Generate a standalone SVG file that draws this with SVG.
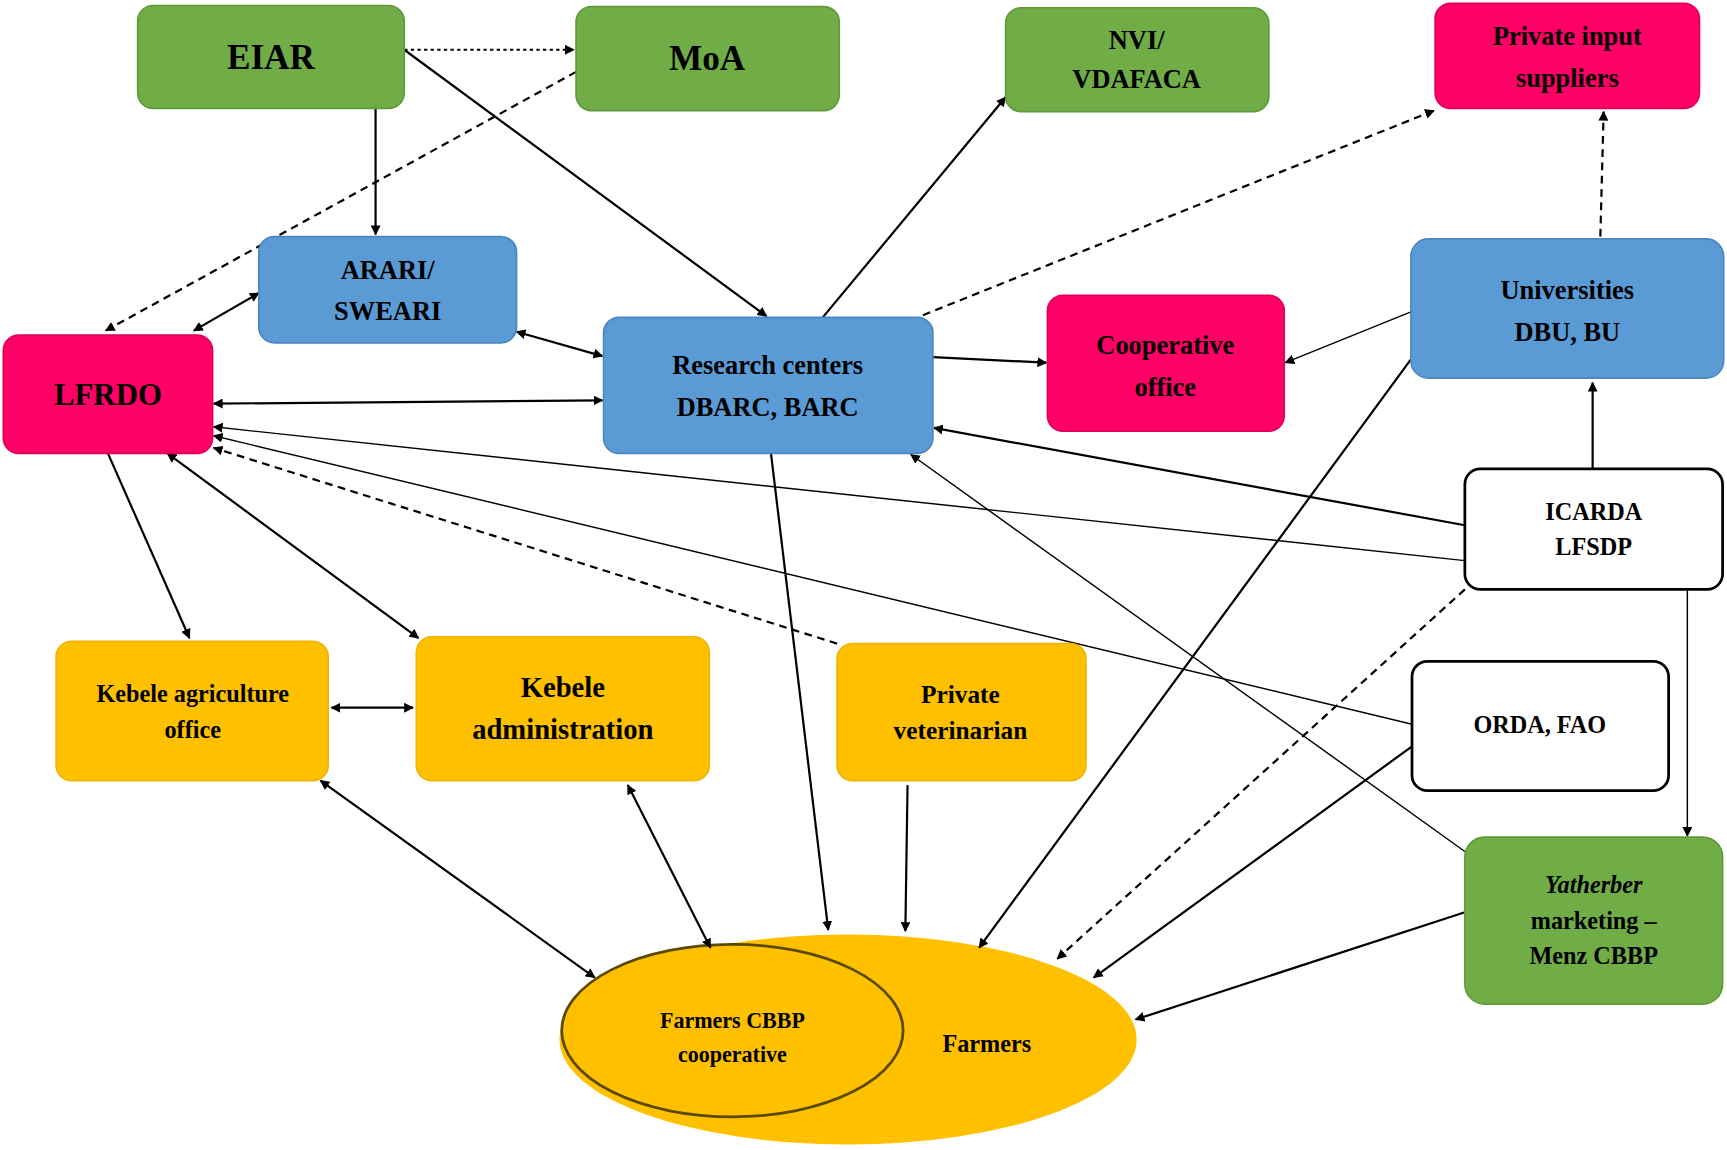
<svg xmlns="http://www.w3.org/2000/svg" width="1727" height="1150" viewBox="0 0 1727 1150">
<defs>
<marker id="a" viewBox="0 0 10 10" refX="9" refY="5" markerWidth="9" markerHeight="9" markerUnits="userSpaceOnUse" orient="auto-start-reverse"><path d="M0,0L10,5L0,10z" fill="#000"/></marker>
<style>
text{font-family:"Liberation Serif",serif;font-weight:bold;text-anchor:middle;fill:#000}
.g{fill:#70AD47;stroke:#5E9A3A;stroke-width:1.5}
.p{fill:#FF0066;stroke:#E0005A;stroke-width:1.5}
.b{fill:#5B9BD5;stroke:#4A87C0;stroke-width:1.5}
.y{fill:#FFC000;stroke:#F0B400;stroke-width:1.5}
.w{fill:#fff;stroke:#000;stroke-width:2.5}
.c line{stroke:#000;stroke-width:2;fill:none}
.d{stroke-dasharray:7,5}
.o{stroke-dasharray:3,3}
.t{stroke-width:1.3!important}
</style>
</defs>
<rect width="1727" height="1150" fill="#fff"/>
<g transform="scale(1.1014,1.1058)">
<g id="farmers"><ellipse cx="770" cy="940" rx="262" ry="95" fill="#FFC000"/><text x="896" y="951" font-size="22">Farmers</text></g>
<g id="coop"><ellipse cx="665" cy="932" rx="155" ry="78" fill="#FFC000" stroke="#5a4a00" stroke-width="2.5"/><text x="665" y="930" font-size="20">Farmers CBBP</text><text x="665" y="960" font-size="20">cooperative</text></g>
<g class="c">
<line x1="367" y1="45" x2="521" y2="45" class="o" marker-end="url(#a)"/>
<line x1="523" y1="65" x2="96" y2="299" class="d" marker-end="url(#a)"/>
<line x1="341" y1="98" x2="341" y2="212" marker-end="url(#a)"/>
<line x1="367" y1="45" x2="696" y2="286" marker-end="url(#a)"/>
<line x1="747" y1="287" x2="913" y2="88" marker-end="url(#a)"/>
<line x1="838" y1="285" x2="1302" y2="100" class="d" marker-end="url(#a)"/>
<line x1="1453" y1="214" x2="1456" y2="101" class="d" marker-end="url(#a)"/>
<line x1="235" y1="265" x2="176" y2="299" marker-start="url(#a)" marker-end="url(#a)"/>
<line x1="469" y1="300" x2="547" y2="322" marker-start="url(#a)" marker-end="url(#a)"/>
<line x1="194" y1="365" x2="547" y2="362" marker-start="url(#a)" marker-end="url(#a)"/>
<line x1="847" y1="323" x2="950" y2="328" marker-end="url(#a)"/>
<line x1="1281" y1="282" x2="1167" y2="328" class="t" marker-end="url(#a)"/>
<line x1="1446" y1="424" x2="1446" y2="346" marker-end="url(#a)"/>
<line x1="1330" y1="475" x2="848" y2="387" marker-end="url(#a)"/>
<line x1="1330" y1="507" x2="194" y2="386" class="t" marker-end="url(#a)"/>
<line x1="1282" y1="655" x2="194" y2="394" class="t" marker-end="url(#a)"/>
<line x1="760" y1="582" x2="194" y2="405" class="d" marker-end="url(#a)"/>
<line x1="98" y1="410" x2="172" y2="577" marker-end="url(#a)"/>
<line x1="152" y1="410" x2="380" y2="577" marker-start="url(#a)" marker-end="url(#a)"/>
<line x1="301" y1="640" x2="375" y2="640" stroke-width="3" marker-start="url(#a)" marker-end="url(#a)"/>
<line x1="291" y1="706" x2="540" y2="884" marker-start="url(#a)" marker-end="url(#a)"/>
<line x1="570" y1="710" x2="645" y2="857" marker-start="url(#a)" marker-end="url(#a)"/>
<line x1="700" y1="410" x2="752" y2="841" marker-end="url(#a)"/>
<line x1="824" y1="710" x2="822" y2="842" marker-end="url(#a)"/>
<line x1="1281" y1="325" x2="889" y2="857" marker-end="url(#a)"/>
<line x1="1330" y1="533" x2="960" y2="867" class="d" marker-end="url(#a)"/>
<line x1="1282" y1="675" x2="993" y2="884" marker-end="url(#a)"/>
<line x1="1330" y1="770" x2="827" y2="411" class="t" marker-end="url(#a)"/>
<line x1="1532" y1="533" x2="1532" y2="756" class="t" marker-end="url(#a)"/>
<line x1="1330" y1="825" x2="1031" y2="922" marker-end="url(#a)"/>
</g>
<g id="eiar"><rect class="g" x="125" y="5" width="242" height="93" rx="14"/><text x="246" y="62" font-size="32">EIAR</text></g>
<g id="moa"><rect class="g" x="523" y="6" width="239" height="94" rx="14"/><text x="642" y="63" font-size="32">MoA</text></g>
<g id="nvi"><rect class="g" x="913" y="7" width="239" height="94" rx="14"/><text x="1032" y="44" font-size="24">NVI/</text><text x="1032" y="80" font-size="24">VDAFACA</text></g>
<g id="pis"><rect class="p" x="1303" y="3" width="240" height="95" rx="14"/><text x="1423" y="41" font-size="24">Private input</text><text x="1423" y="79" font-size="24">suppliers</text></g>
<g id="arari"><rect class="b" x="235" y="214" width="234" height="96" rx="14"/><text x="352" y="252" font-size="24">ARARI/</text><text x="352" y="289" font-size="24">SWEARI</text></g>
<g id="lfrdo"><rect class="p" x="3" y="303" width="190" height="107" rx="14"/><text x="98" y="366" font-size="28">LFRDO</text></g>
<g id="research"><rect class="b" x="548" y="287" width="299" height="123" rx="14"/><text x="697" y="338" font-size="24">Research  centers</text><text x="697" y="376" font-size="24">DBARC, BARC</text></g>
<g id="coopoffice"><rect class="p" x="951" y="267" width="215" height="123" rx="14"/><text x="1058" y="320" font-size="24">Cooperative</text><text x="1058" y="358" font-size="24">office</text></g>
<g id="univ"><rect class="b" x="1281" y="216" width="284" height="126" rx="16"/><text x="1423" y="270" font-size="24">Universities</text><text x="1423" y="308" font-size="24">DBU, BU</text></g>
<g id="icarda"><rect class="w" x="1330" y="424" width="234" height="109" rx="14"/><text x="1447" y="470" font-size="22">ICARDA</text><text x="1447" y="502" font-size="22">LFSDP</text></g>
<g id="orda"><rect class="w" x="1282" y="598" width="233" height="117" rx="14"/><text x="1398" y="663" font-size="22">ORDA, FAO</text></g>
<g id="yatherber"><rect class="g" x="1330" y="757" width="234" height="151" rx="18"/><text x="1447" y="808" font-size="22" font-style="italic">Yatherber</text><text x="1447" y="840" font-size="22">marketing –</text><text x="1447" y="872" font-size="22">Menz CBBP</text></g>
<g id="kagri"><rect class="y" x="51" y="580" width="247" height="126" rx="14"/><text x="175" y="635" font-size="22">Kebele agriculture</text><text x="175" y="667" font-size="22">office</text></g>
<g id="kadmin"><rect class="y" x="378" y="576" width="266" height="130" rx="14"/><text x="511" y="630" font-size="26">Kebele</text><text x="511" y="668" font-size="26">administration</text></g>
<g id="pvet"><rect class="y" x="760" y="582" width="226" height="124" rx="14"/><text x="872" y="636" font-size="23">Private</text><text x="872" y="668" font-size="23">veterinarian</text></g>
</g>
</svg>
